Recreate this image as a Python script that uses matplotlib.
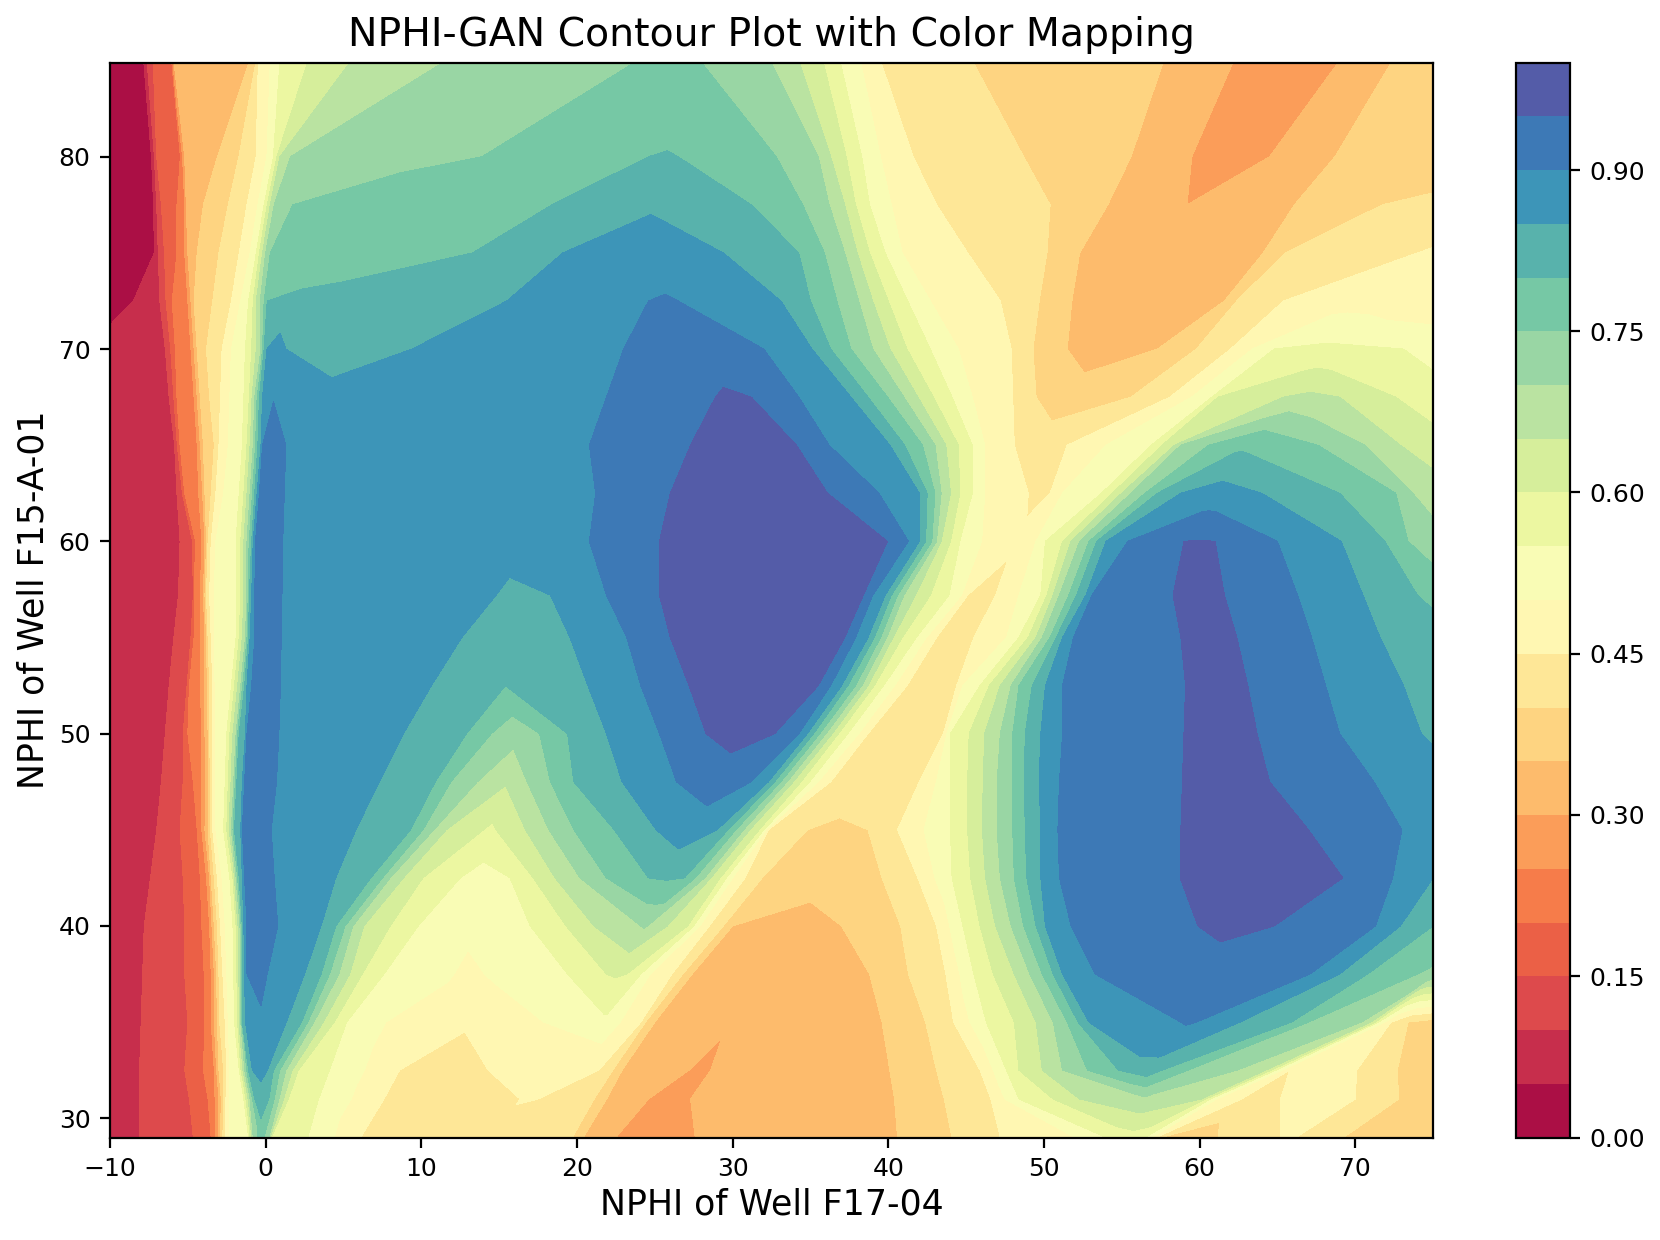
import numpy as np
import matplotlib
matplotlib.use("Agg")
import matplotlib.pyplot as plt
import matplotlib.tri as mtri

title = "NPHI-GAN Contour Plot with Color Mapping"
xlabel = "NPHI of Well F17-04"
ylabel = "NPHI of Well F15-A-01"
x_ticks = [-10, 0, 10, 20, 30, 40, 50, 60, 70]
y_ticks = [30, 40, 50, 60, 70, 80]
cbar_ticks = [0.00, 0.15, 0.30, 0.45, 0.60, 0.75, 0.90]
levels = [i / 20 for i in range(21)]

y_rows = [85, 80, 77.5, 75, 72.5, 70, 67.5, 65, 62.5, 60, 57.2, 55, 52.5, 50, 47.5, 45, 42.5, 40, 37.5, 35, 32.5, 31, 29]

x_85 = [-10,-7.84,-7.62,-7.23,-6.04,-5.9,-1.03,-.61,-.47,.3,.92,2.73,5.5,11.6,23.9,26,27.9,32.4,34.25,35.8,36.9,38.2,39.5,45.4,57.7,62.2,65.5,69,72.4,75]
z_85 = [.02,.05,.1,.15,.2,.3,.35,.4,.45,.5,.55,.6,.65,.7,.75,.77,.75,.7,.65,.6,.55,.5,.45,.4,.35,.3,.27,.3,.35,.37]

x_80 = [-10,-7.34,-7.15,-7,-5.48,-5.2,-3.1,-1.72,-.61,.08,.5,.72,.92,1.6,8,13.9,20,24.6,25.8,26.5,29,32.8,35.5,36.3,37.3,38.3,39.5,41.6,48.7,55.6,59.5,62.2,64.5,68.7,75]
z_80 = [.03,.05,.1,.15,.2,.3,.35,.4,.45,.5,.55,.6,.65,.7,.74,.75,.78,.8,.802,.8,.78,.75,.7,.65,.6,.55,.5,.45,.4,.35,.3,.27,.3,.35,.37]

x_77 = [-10,-7.2,-7,-6.7,-5.7,-5.2,-5.1,-4,-2.4,-1.2,-.5,-.1,.1,.3,.55,1.75,10,18.4,24.7,31.2,34.5,36.2,37.2,37.9,38.8,40.2,43.1,50.4,54.1,59.2,66.1,71.75,75]
z_77 = [.03,.05,.1,.15,.2,.25,.3,.35,.4,.45,.5,.55,.6,.65,.7,.75,.77,.8,.845,.8,.75,.7,.65,.6,.55,.5,.45,.4,.35,.3,.35,.4,.41]

x_75 = [-10,-7.15,-6.9,-6.5,-5.7,-5.2,-5,-4.4,-3,-1.7,-1,-.6,-.4,-.2,0,.3,5,13.3,16,19.1,25,29.4,32,34.25,35.9,37.2,38,38.8,39.8,40.9,45.1,50.2,52.3,58,64.1,65.5,74,75]
z_75 = [.03,.05,.1,.15,.2,.25,.3,.35,.4,.45,.5,.55,.6,.65,.7,.75,.77,.8,.83,.85,.87,.85,.83,.8,.75,.7,.65,.6,.55,.5,.45,.4,.35,.31,.35,.4,.45,.455]

x_72 = [-10,-8.5,-6.8,-6.4,-6,-5,-4.8,-4.6,-3.4,-2.2,-1.6,-1.1,-.8,-.6,-.35,-.1,.1,1.5,5,15.5,20,24.6,25.8,26.5,30,33.1,35,36.7,38.1,39,40,41.25,42.7,47.2,49.7,51.8,55,61.6,62.4,65.4,70,75]
z_72 = [.04,.05,.1,.15,.2,.25,.3,.35,.4,.45,.5,.55,.6,.65,.7,.75,.8,.81,.82,.85,.87,.9,.905,.9,.87,.85,.8,.75,.7,.65,.6,.55,.5,.45,.4,.35,.32,.35,.4,.45,.48,.47]

x_70 = [-10,-6.45,-6.1,-5.8,-4.8,-4.6,-4.4,-3.8,-2.8,-2.2,-1.3,-.9,-.6,-.3,-.1,.08,.65,1.3,3.1,9.4,15,23,27,32,35.1,36.3,37.6,39,40.1,41.2,42.7,44.5,47.9,49.3,51.5,54,57.3,59.8,62,64.8,68,73.1,75]
z_70 = [.06,.1,.15,.2,.25,.3,.35,.4,.45,.5,.55,.6,.65,.7,.8,.85,.87,.85,.82,.85,.87,.9,.93,.9,.85,.8,.75,.7,.65,.6,.55,.5,.45,.4,.35,.33,.35,.4,.45,.55,.56,.55,.53]

x_67 = [-10,-6.2,-5.9,-5.7,-4.6,-4.4,-4.2,-3.6,-2.9,-2.3,-1.4,-1.05,-.7,-.4,-.2,.5,5,15,21.9,26,28.9,30,31.2,34.25,37.6,38.7,39.95,41,41.9,42.9,44.1,45.4,48,49.5,51.2,55.6,58.1,59.5,60.8,61.2,65.4,67,69,72.6,75]
z_67 = [.065,.1,.15,.2,.25,.3,.35,.4,.45,.5,.55,.6,.7,.8,.85,.898,.87,.87,.9,.93,.95,.955,.95,.9,.85,.8,.75,.7,.65,.6,.55,.5,.45,.4,.37,.4,.45,.5,.55,.6,.65,.66,.65,.6,.575]

x_65 = [-10,-5.85,-5.5,-4.4,-4.2,-4,-3.3,-3,-2.4,-1.5,-1.2,-.8,-.5,-.3,-.2,.5,1.3,5,15,20.8,24,27.3,30,34.1,36.2,40.1,41.05,42.2,43,43.7,44.5,45.4,46.2,48.1,49.8,51.5,54,56.9,57.6,58.4,58.8,60.6,62.9,67.6,70.6,72.9,75]
z_65 = [.07,.1,.2,.25,.3,.35,.4,.45,.5,.55,.6,.7,.8,.85,.9,.92,.9,.87,.87,.9,.93,.95,.97,.95,.9,.85,.8,.75,.7,.65,.6,.55,.5,.45,.43,.45,.5,.55,.6,.65,.7,.75,.79,.75,.7,.65,.62]

x_62 = [-10,-5.7,-5.35,-5.2,-4.3,-4.05,-3.9,-3.5,-3.2,-2.7,-1.7,-1.4,-1,-.7,-.55,-.4,.5,1.2,5,15,21.2,26,30,36.1,39.4,42,42.5,43,43.4,44,44.6,45.4,46.2,49,49.5,50.4,51.2,53.7,54.4,55,55.6,56.5,57.3,58.8,61,64,69,72.6,73.7,75]
z_62 = [.07,.1,.15,.2,.25,.3,.35,.4,.45,.5,.55,.6,.7,.8,.85,.9,.92,.9,.87,.87,.9,.95,.98,.95,.9,.85,.8,.75,.7,.65,.6,.55,.5,.45,.44,.45,.5,.55,.6,.65,.7,.75,.8,.85,.87,.85,.8,.75,.7,.68]

x_60 = [-10,-5.5,-4.7,-4.5,-4.1,-3.9,-3.7,-3.5,-3.2,-1.9,-1.6,-1.2,-.9,-.8,-.65,.5,1.1,5,15,20.8,25.3,30,35,39.95,41.3,42,42.4,42.8,43.1,43.4,44,44.6,46,48.3,49.5,50.1,51.2,51.75,52.3,52.9,53.4,54,55.4,59,60,61,65,69.1,71.9,73.4,75]
z_60 = [.07,.1,.15,.2,.25,.3,.4,.45,.5,.55,.6,.7,.8,.85,.9,.92,.9,.87,.87,.9,.95,.98,.98,.95,.9,.85,.8,.75,.7,.65,.6,.55,.5,.46,.5,.55,.6,.65,.7,.75,.8,.85,.9,.95,.952,.95,.9,.85,.8,.75,.72]

x_57 = [-10,-5.6,-4.65,-4.6,-4.2,-4,-3.8,-3.6,-3.3,-1.9,-1.6,-1.2,-1.05,-.9,-.7,.5,1.05,8,14.8,16,18.3,21.9,25.3,30,35,38.4,39,39.8,40.2,40.6,41,41.75,42.7,43.9,44.7,45.1,46.5,46.9,48.4,49.8,50.2,50.6,51,51.6,52.1,52.7,53.1,56,58.3,60,61.6,66.3,70.5,74,75]
z_57 = [.07,.1,.15,.2,.25,.3,.4,.45,.5,.55,.6,.7,.8,.85,.9,.92,.9,.87,.85,.84,.85,.9,.95,.98,.98,.95,.9,.85,.8,.75,.7,.65,.6,.55,.5,.45,.43,.45,.5,.55,.6,.65,.7,.75,.8,.85,.9,.93,.95,.97,.95,.9,.85,.8,.79]

x_55 = [-10,-5.9,-4.8,-4.6,-4.2,-3.9,-3.7,-3.5,-3.3,-1.9,-1.7,-1.3,-1.1,-1,-.7,.5,1,8,12.6,16,19.55,23.2,26,30,37.2,37.9,38.7,39.1,39.5,39.9,40.3,40.9,41.8,43.1,45,45.5,47.6,48.4,49,49.5,49.9,50.4,50.8,51.2,51.9,55,58.8,60.5,62.4,67.2,71.6,75]
z_55 = [.07,.1,.15,.2,.25,.3,.4,.45,.5,.55,.6,.7,.8,.85,.9,.92,.9,.87,.85,.83,.85,.9,.95,.98,.95,.9,.85,.8,.75,.7,.65,.6,.55,.45,.43,.45,.5,.55,.6,.65,.7,.75,.8,.85,.9,.93,.95,.97,.95,.9,.85,.82]

x_52 = [-10,-6.2,-5.05,-4.9,-4.2,-3.9,-3.75,-3.6,-3.4,-3.25,-2.2,-2,-1.6,-1.35,-1.2,-.9,.4,.95,6,10.65,15.4,16.5,17.9,20.7,24.1,27.2,30,35.5,36.3,37,37.4,37.9,38.3,38.7,39.1,39.7,40.4,41.2,43,44.4,44.8,45.9,46.5,47.2,47.9,48.4,49.25,50.1,51.2,55,59.1,60.5,63.1,68.1,73.1,75]
z_52 = [.07,.1,.15,.2,.25,.3,.35,.4,.45,.5,.55,.6,.7,.8,.85,.9,.92,.9,.87,.85,.8,.81,.8,.85,.9,.95,.98,.95,.9,.85,.8,.75,.7,.65,.6,.55,.5,.45,.43,.45,.5,.55,.6,.65,.7,.75,.8,.85,.9,.93,.95,.97,.95,.9,.85,.835]

x_50 = [-10,-6.45,-5.3,-5,-4.1,-3.9,-3.7,-3.6,-3.4,-3.2,-2.5,-2.3,-1.9,-1.7,-1.3,-1.2,.2,.85,6,8.85,12.9,14.5,16.1,17.6,19.4,21.9,25.3,28.3,30,32.7,34.25,34.8,35.2,35.6,36,36.4,36.8,37.4,38.1,38.7,41,43.55,44,45.2,46.2,47.2,48,48.8,49.8,51.2,55,59,61,63.7,69,74.25,75]
z_50 = [.07,.1,.15,.2,.25,.3,.35,.4,.45,.5,.55,.6,.7,.8,.85,.9,.92,.9,.87,.85,.8,.75,.72,.75,.8,.85,.9,.95,.97,.95,.9,.85,.8,.75,.7,.65,.6,.55,.5,.45,.43,.45,.55,.6,.65,.7,.75,.8,.85,.9,.93,.95,.97,.95,.9,.85,.845]

x_47 = [-10,-6.7,-5.3,-4.65,-4.1,-3.85,-3.7,-3.55,-3.4,-3.2,-2.6,-2.4,-2.05,-1.85,-1.5,-1.35,0,.7,4,7.3,10.9,11.9,13.6,15.5,16.8,18.3,19.8,22.9,26.4,29.7,31.2,32.3,32.7,33.1,33.5,33.9,34.4,34.95,35.5,36.3,38,42,43.1,44,45.1,46.1,47,48,48.75,49.7,51,55,58.9,61,64.5,71.2,75]
z_47 = [.07,.1,.15,.2,.25,.3,.35,.4,.45,.5,.55,.6,.7,.8,.85,.9,.92,.9,.87,.85,.8,.75,.7,.655,.7,.75,.8,.85,.9,.92,.9,.85,.8,.75,.7,.65,.6,.55,.5,.45,.43,.45,.5,.55,.6,.65,.7,.75,.8,.85,.9,.93,.95,.97,.95,.9,.865]

x_45 = [-10,-7,-5.5,-4.4,-4.1,-3.9,-3.7,-3.55,-3.4,-3.2,-2.7,-2.5,-2.2,-2,-1.6,-1.5,0,.36,3,5.8,9.3,10.1,10.8,11.6,14,14.4,14.8,16.7,18.2,19.8,22.4,25.1,27,29,29.7,30.2,30.7,31.1,31.7,32,32.3,34.8,36.5,38.7,40.6,42.3,44,45.1,46.05,47,48,48.8,49.8,50.9,55,58.8,63,67,73,75]
z_45 = [.07,.1,.15,.2,.25,.3,.35,.4,.45,.5,.55,.6,.7,.8,.85,.9,.92,.9,.87,.85,.8,.75,.7,.65,.6,.59,.6,.65,.7,.75,.8,.85,.88,.85,.8,.75,.7,.65,.6,.55,.45,.4,.39,.4,.45,.5,.55,.6,.65,.7,.75,.8,.85,.9,.93,.95,.97,.95,.9,.87]

x_42 = [-10,-7.4,-5.3,-4.2,-3.8,-3.6,-3.5,-3.3,-3.1,-2.8,-2.3,-2.1,-1.9,-1.7,-1.5,-1.35,0,.55,4.5,6.75,7.5,8,8.85,10.1,12.5,13.8,15.7,17.2,18.6,20.2,21.9,24.6,25.8,26.9,27.6,28.2,28.6,29.2,29.6,30,30.8,31.9,37,39.6,41.9,44.1,45.3,46.25,47.2,48.1,48.9,49.8,51,55,58.75,63,69.2,72.4,74.8,75]
z_42 = [.07,.1,.15,.2,.25,.3,.35,.4,.45,.5,.55,.6,.7,.8,.85,.9,.92,.9,.85,.8,.75,.7,.65,.6,.55,.53,.55,.6,.65,.7,.75,.8,.805,.8,.75,.7,.65,.6,.55,.5,.45,.4,.37,.4,.45,.55,.6,.65,.7,.75,.8,.85,.9,.93,.95,.97,.95,.9,.85,.85]

x_40 = [-10,-7.8,-5.2,-4.1,-3.6,-3.45,-3.3,-3.1,-2.9,-2.6,-2.1,-1.9,-1.65,-1.5,-1.4,-1.2,0,.78,3.56,4.5,5.1,5.6,6.3,8,9.8,13,17,19.3,21.1,24.4,25.8,27.1,27.5,27.9,28.5,29.4,30,33,37,40.8,43.1,44.8,45.9,46.9,47.9,48.7,49.5,50.1,51.75,55,59.9,62,64.8,71.3,72.9,75]
z_40 = [.07,.1,.15,.2,.25,.3,.35,.4,.45,.5,.55,.6,.7,.8,.85,.9,.92,.9,.85,.8,.75,.7,.65,.6,.55,.51,.55,.6,.65,.705,.65,.6,.55,.5,.45,.4,.35,.33,.35,.4,.45,.55,.6,.65,.7,.75,.8,.85,.9,.93,.95,.96,.95,.9,.85,.8]

x_37 = [-10,-7.9,-5.2,-3.95,-3.5,-3.3,-3.15,-3,-2.75,-2.5,-2.05,-1.85,-1.6,-1.5,-1.35,-1.2,-.3,.1,2.5,3.56,4.1,4.7,5.4,6.2,7.6,13,19.4,21.9,22.5,23.2,24.1,24.7,26.1,26.8,27.4,33,38.8,41.3,43.7,45.5,46.75,48.1,49.1,49.9,50.6,51.2,53.3,60,67.1,69,70.8,74,75]
z_37 = [.07,.1,.15,.2,.25,.3,.35,.4,.45,.5,.55,.6,.7,.8,.85,.9,.92,.9,.85,.8,.75,.7,.65,.6,.55,.49,.55,.6,.605,.6,.55,.5,.45,.4,.35,.32,.35,.4,.45,.55,.6,.65,.7,.75,.8,.85,.9,.93,.9,.85,.8,.75,.74]

x_35 = [-10,-8,-5,-3.9,-3.5,-3.3,-3.1,-2.95,-2.6,-2.4,-2,-1.8,-1.6,-1.5,-1.3,-.3,1.33,2.3,2.7,3.1,3.7,4.4,5.2,10,13,15,21.7,24.1,24.4,25,30,35,39.6,42.4,44.2,46.3,48.1,49.5,50.6,51.5,52.2,52.9,55.2,57,58.8,59.3,59.8,62.6,65.9,67,70.4,71,71.3,71.5,71.9,72.3,73.4,75]
z_35 = [.06,.1,.15,.2,.25,.3,.35,.4,.45,.5,.55,.6,.7,.8,.85,.89,.85,.8,.75,.7,.65,.6,.55,.455,.455,.47,.54,.45,.4,.35,.31,.33,.35,.4,.45,.55,.6,.65,.7,.75,.8,.85,.9,.898,.9,.905,.9,.85,.8,.75,.7,.65,.6,.55,.5,.45,.4,.38]

x_32 = [-10,-8.1,-5.2,-4,-3.3,-3,-2.7,-2.5,-2.3,-1.7,-1.1,-.85,-.3,.1,.5,.9,1.3,1.7,2.1,4.1,8.6,12,14.3,16.1,21.4,22.3,22.9,25,27.2,27.9,28.6,33,40.1,43.1,45.9,47.6,48.4,49.9,51.2,52.8,54.8,56.6,59.25,62.4,64.25,64.6,64.9,65.3,65.8,68,70.1,72.7,75]
z_32 = [.06,.1,.15,.2,.25,.35,.4,.45,.5,.55,.8,.85,.87,.85,.8,.75,.7,.65,.6,.55,.45,.43,.45,.48,.45,.4,.35,.31,.3,.28,.3,.33,.35,.4,.45,.55,.6,.65,.7,.75,.8,.83,.75,.7,.65,.6,.55,.5,.45,.47,.45,.4,.38]

x_31 = [-10,-8.1,-4.9,-3.7,-3.25,-3,-2.7,-2.55,-2.3,-1.4,-1,-.7,-.3,.2,.55,.85,1.15,1.45,3.4,7.6,12,16.35,16.8,17.5,21.1,21.9,24.6,26,27.3,33,40.4,43.6,46.6,48.4,50.6,52.3,56.5,60.1,60.4,60.7,61.1,62.7,64,65.2,68,70,72.8,75]
z_31 = [.06,.1,.15,.2,.25,.3,.4,.45,.5,.55,.7,.8,.82,.8,.75,.7,.65,.6,.55,.45,.42,.45,.455,.45,.4,.35,.3,.28,.3,.32,.35,.4,.45,.55,.6,.65,.69,.65,.6,.55,.5,.45,.43,.45,.47,.45,.4,.38]

x_29 = [-10,-8.1,-4.65,-3.5,-3.2,-3,-2.75,-2.6,-2.3,-1.1,-.8,-.3,.2,.36,2.7,6.1,12,19.7,20.4,22.5,25,27.6,33,40.6,44.1,47.2,52,54,55.6,56.5,56.9,57.2,57.5,59.5,61.2,65.2,65.7,66.2,69.25,75]
z_29 = [.05,.1,.15,.2,.25,.3,.4,.45,.5,.55,.7,.78,.7,.6,.55,.45,.42,.4,.35,.3,.28,.3,.33,.35,.4,.45,.5,.55,.58,.55,.5,.45,.4,.38,.4,.45,.47,.45,.4,.38]

x_rows = [x_85, x_80, x_77, x_75, x_72, x_70, x_67, x_65, x_62, x_60, x_57, x_55, x_52, x_50, x_47, x_45, x_42, x_40, x_37, x_35, x_32, x_31, x_29]
z_rows = [z_85, z_80, z_77, z_75, z_72, z_70, z_67, z_65, z_62, z_60, z_57, z_55, z_52, z_50, z_47, z_45, z_42, z_40, z_37, z_35, z_32, z_31, z_29]

for yy, a, b in zip(y_rows, x_rows, z_rows):
    assert len(a) == len(b), (yy, len(a), len(b))


def stitch(xa, za, xb, zb, ia, ib):
    """Triangle strip between two rows whose cross edges join equal values."""
    xa, za, xb, zb = map(np.asarray, (xa, za, xb, zb))
    n, m = len(xa), len(xb)
    edge = np.abs(za[:, None] - zb[None, :]) + 0.004 * np.abs(xa[:, None] - xb[None, :])
    cost = np.full((n, m), np.inf)
    cost[0, 0] = edge[0, 0]
    for i in range(n):
        for j in range(m):
            if i:
                cost[i, j] = min(cost[i, j], cost[i - 1, j] + edge[i, j])
            if j:
                cost[i, j] = min(cost[i, j], cost[i, j - 1] + edge[i, j])
    tris = []
    i, j = n - 1, m - 1
    while i or j:
        if i and (not j or cost[i - 1, j] <= cost[i, j - 1]):
            tris.append((ia + i, ia + i - 1, ib + j))
            i -= 1
        else:
            tris.append((ia + i, ib + j, ib + j - 1))
            j -= 1
    return tris


px = np.concatenate(x_rows)
py = np.concatenate([[yy] * len(a) for yy, a in zip(y_rows, x_rows)])
pz = np.concatenate(z_rows)
starts = np.cumsum([0] + [len(a) for a in x_rows])
triangles = []
for k in range(len(x_rows) - 1):
    triangles += stitch(x_rows[k], z_rows[k], x_rows[k + 1], z_rows[k + 1], starts[k], starts[k + 1])

W, H = 1660, 1240
fig = plt.figure(figsize=(W / 200, H / 200), dpi=200)
ax = fig.add_axes([110 / W, 1 - 1137.5 / H, (1433 - 110) / W, (1137.5 - 62.5) / H])
cax = fig.add_axes([1516 / W, 1 - 1137.5 / H, (1570 - 1516) / W, (1137.5 - 62.5) / H])

tri = mtri.Triangulation(px, py, triangles)
cs = ax.tricontourf(tri, pz, levels=levels, cmap="Spectral")
ax.set_xlim(-10, 75)
ax.set_ylim(29, 84.9)
ax.set_xticks(x_ticks)
ax.set_yticks(y_ticks)
ax.tick_params(labelsize=9)
ax.set_xlabel(xlabel, fontsize=12.5, labelpad=2.5)
ax.set_ylabel(ylabel, fontsize=12.5, labelpad=3)
ax.set_title(title, fontsize=14.2, pad=6)

cb = fig.colorbar(cs, cax=cax, ticks=cbar_ticks)
cb.ax.set_yticklabels([f"{t:.2f}" for t in cbar_ticks])
cb.ax.tick_params(labelsize=9)

fig.savefig("out.png", dpi=200)
